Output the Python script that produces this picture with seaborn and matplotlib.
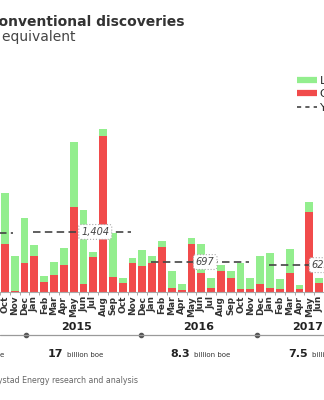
import matplotlib
matplotlib.use("Agg")
import matplotlib.pyplot as plt
import matplotlib.transforms as mtrans
from matplotlib.lines import Line2D
import seaborn as sns
import pandas as pd

# ---------------- data ----------------
months = ["Oct", "Nov", "Dec",
          "Jan", "Feb", "Mar", "Apr", "May", "Jun", "Jul", "Aug", "Sep", "Oct", "Nov", "Dec",
          "Jan", "Feb", "Mar", "Apr", "May", "Jun", "Jul", "Aug", "Sep", "Oct", "Nov", "Dec",
          "Jan", "Feb", "Mar", "Apr", "May", "Jun"]
years = [2014] * 3 + [2015] * 12 + [2016] * 12 + [2017] * 6
liquids = [1213, 814, 1058,
           251, 148, 313, 393, 1527, 1739, 103, 157, 1050, 103, 118, 369,
           179, 141, 414, 134, 134, 689, 221, 133, 179, 611, 245, 658,
           837, 242, 564, 94, 249, 103]
gas = [1114, 25, 667,
       846, 221, 392, 627, 1998, 181, 823, 3666, 340, 212, 667, 611,
       667, 1058, 80, 40, 1121, 432, 94, 494, 315, 56, 70, 181,
       80, 56, 432, 56, 1866, 212]
avg_years = [2014, 2015, 2016, 2017]
avg_values = [1380, 1404, 697, 625]
avg_labels = [None, "1,404", "697", "625"]
year_labels = ["2015", "2016", "2017"]
year_totals = ["17", "8.3", "7.5"]

GREEN = "#93ee8e"
RED = "#f14b4b"

totals = [l + g for l, g in zip(liquids, gas)]
df = pd.DataFrame({
    "period": [f"{y}-{i:02d}-{m}" for i, (y, m) in enumerate(zip(years, months))],
    "total": totals,
    "gas": gas,
})

# ---------------- figure ----------------
sns.set_theme(style="white")
plt.rcParams["font.family"] = ["DejaVu Sans"]

W, H = 324, 400
fig = plt.figure(figsize=(3.24, 4.0), dpi=100)


def fx(px):
    return px / W


def fy(py):
    return 1 - py / H


base_px, top_px = 291.7, 50
ppu = 23.5  # data units per pixel
ax = fig.add_axes([0, fy(base_px), 1, (base_px - top_px) / H])

sns.barplot(data=df, x="period", y="total", color=GREEN, saturation=1,
            width=0.8, errorbar=None, ax=ax, linewidth=0)
sns.barplot(data=df, x="period", y="gas", color=RED, saturation=1,
            width=0.8, errorbar=None, ax=ax, linewidth=0)

n = len(months)
ax.set_ylim(0, (base_px - top_px) * ppu)
ax.set_xlim(-0.368, 31.865)
ax.set_xlabel("")
ax.set_ylabel("")
ax.set_yticks([])
for s in ["top", "left", "right"]:
    ax.spines[s].set_visible(False)
ax.spines["bottom"].set_color("#aaaaaa")
ax.spines["bottom"].set_linewidth(0.8)
ax.set_xticks(range(n))
ax.set_xticklabels(months, rotation=90, fontsize=6.5, fontweight="bold", color="#333333")
ax.set_xticks([i + 0.5 for i in range(-1, n)], minor=True)
ax.tick_params(axis="x", which="major", length=0, pad=3)
ax.tick_params(axis="x", which="minor", length=2.5, width=0.6, color="#999999", bottom=True)

# yearly averages
first_idx = {}
for i, y in enumerate(years):
    first_idx.setdefault(y, i)
label_offset = {2015: 6.2, 2016: 5.4, 2017: 5.2}
for yr, val, lbl in zip(avg_years, avg_values, avg_labels):
    start = first_idx.get(yr, years.index(2015) - 12 if yr == 2014 else 0)
    if yr == 2014:
        start = first_idx[2015] - 12
    ax.plot([start - 0.1, start + 9.85], [val, val], color="#444444", lw=1.2,
            ls=(0, (4.5, 2.6)), zorder=4)
    if lbl is not None:
        ax.text(start + label_offset[yr], val, lbl, ha="center", va="center",
                style="italic", fontsize=7, color="#444444", zorder=6,
                bbox=dict(boxstyle="round,pad=0.25", fc="white", ec="#aaaaaa",
                          ls=":", lw=0.8))

# timeline below
trans = mtrans.blended_transform_factory(ax.transData, fig.transFigure)
fig.add_artist(Line2D([0, 1], [fy(335), fy(335)], transform=fig.transFigure,
                      color="#9a9a9a", lw=0.9))
dot_x = [2.12, 13.88, 25.65]
ax.plot(dot_x, [fy(335)] * 3, "o", ms=3, color="#555555", transform=trans, clip_on=False)
for xp, lbl in zip([7.29, 19.73, 30.87], year_labels):
    ax.text(xp, fy(327), lbl, transform=trans, ha="center", va="center",
            fontsize=8, fontweight="bold", color="#222222")

# billion boe row
fig.text(fx(4), fy(357), "billion boe", ha="right", va="baseline", fontsize=5, color="#333333")
for num, xr in zip(year_totals, [63, 190, 308]):
    fig.text(fx(xr), fy(357), num, ha="right", va="baseline", fontsize=8,
             fontweight="bold", color="#222222")
    fig.text(fx(xr + 4), fy(357), "billion boe", ha="left", va="baseline",
             fontsize=5, color="#333333")

# titles & source
fig.text(fx(185), fy(26), "Monthly conventional discoveries", ha="right", va="baseline",
         fontsize=10, fontweight="bold", color="#333333")
fig.text(fx(75), fy(40.5), "Million barrels of oil equivalent", ha="right", va="baseline",
         fontsize=10, color="#444444")
fig.text(fx(138), fy(383), "Source: Rystad Energy research and analysis", ha="right",
         va="baseline", fontsize=5.7, color="#666666")

# legend
handles = [Line2D([], [], color=GREEN, lw=4.5, solid_capstyle="butt"),
           Line2D([], [], color=RED, lw=4.5, solid_capstyle="butt"),
           Line2D([], [], color="#444444", lw=1.2, ls=(0, (2.5, 2.5)))]
fig.legend(handles, ["Liquids", "Gas", "Yearly average"], loc="upper left",
           bbox_to_anchor=(fx(297), fy(76)), bbox_transform=fig.transFigure,
           frameon=False, fontsize=8, handlelength=1.8, handletextpad=0.25,
           labelspacing=0.3, borderpad=0, borderaxespad=0)

fig.savefig("out.png", dpi=100)
